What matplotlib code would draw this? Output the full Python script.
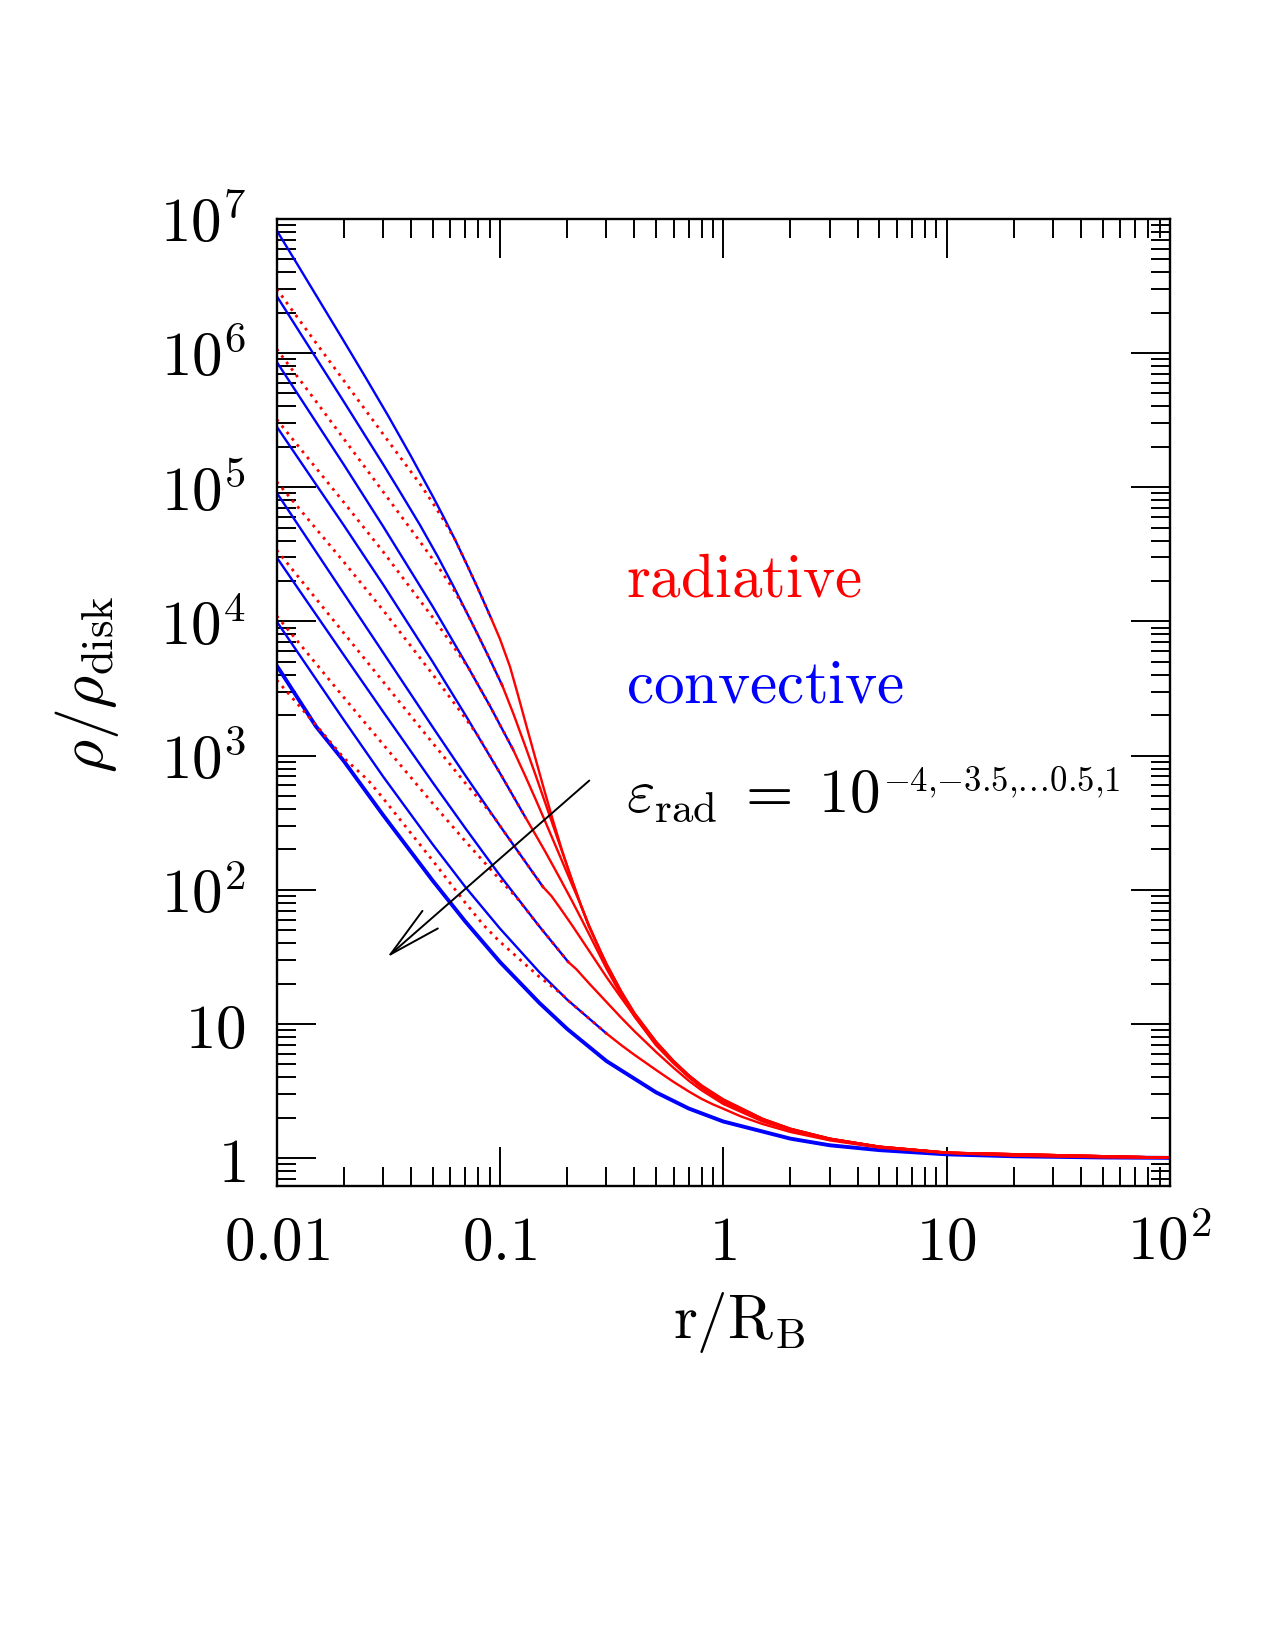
import numpy as np
import matplotlib
matplotlib.use('Agg')
import matplotlib.pyplot as plt
from matplotlib.ticker import LogLocator, NullFormatter

plt.rcParams['mathtext.fontset'] = 'cm'
plt.rcParams['font.family'] = 'serif'

# r/R_B and rho/rho_disk, one list per epsilon_rad curve
# blue = convective part, red = radiative part, dotted red = second solution
conv_r = [
    [0.01, 0.01259, 0.01585, 0.01995, 0.02512, 0.03162, 0.03981, 0.05012,
     0.05623, 0.0631, 0.07079, 0.07943, 0.0912],
    [0.01, 0.02, 0.03, 0.035, 0.0438, 0.0525, 0.0618, 0.07, 0.08, 0.09, 0.1025],
    [0.01, 0.02, 0.03, 0.05, 0.07, 0.09, 0.1148],
    [0.01, 0.02, 0.03, 0.05, 0.07, 0.1, 0.13],
    [0.01, 0.02, 0.03, 0.05, 0.07, 0.1, 0.125, 0.156],
    [0.01, 0.02, 0.03, 0.05, 0.07, 0.1, 0.15, 0.2023],
    [0.01, 0.02, 0.03, 0.05, 0.07, 0.1, 0.15, 0.2, 0.3],
]
conv_rho = [
    [8.2e6, 4.37e6, 2.32e6, 1.233e6, 6.5e5, 3.39e5, 1.72e5, 8.5e4,
     5.9e4, 4.03e4, 2.69e4, 1.78e4, 1.06e4],
    [2.66e6, 4.33e5, 1.48e5, 9.73e4, 5.24e4, 3.07e4, 1.84e4, 1.22e4, 7.83e3, 5.24e3, 3.32e3],
    [8.6e5, 1.47e5, 5.1e4, 1.29e4, 4.95e3, 2.36e3, 1.1e3],
    [2.83e5, 5.19e4, 1.88e4, 4.99e3, 2.01e3, 741, 347],
    [9.1e4, 1.61e4, 5.85e3, 1.63e3, 711, 300, 177, 105],
    [3.0e4, 5.61e3, 2.12e3, 630, 288, 128, 53.5, 29],
    [1.0e4, 1.84e3, 697, 218, 105, 51.5, 24.4, 15.2, 8.5],
]
dot_r = [
    [0.01, 0.015, 0.02, 0.03, 0.0438, 0.05, 0.0562, 0.0631, 0.07079, 0.07943, 0.0912],
    [0.01, 0.015, 0.02, 0.0265, 0.0344, 0.0438, 0.0525, 0.0618, 0.07, 0.08, 0.09, 0.1025],
    [0.01, 0.02, 0.03, 0.05, 0.0724, 0.09, 0.1148],
    [0.01, 0.02, 0.03, 0.05, 0.07, 0.0794, 0.1, 0.13],
    [0.01, 0.02, 0.03, 0.05, 0.07, 0.0933, 0.1, 0.125, 0.156],
    [0.01, 0.02, 0.03, 0.05, 0.07, 0.1, 0.12, 0.15, 0.2023],
    [0.01, 0.015, 0.02, 0.0257, 0.03, 0.05, 0.07, 0.0841, 0.1, 0.15, 0.19, 0.2, 0.3],
]
dot_rho = [
    [3.0e6, 1.19e6, 6.22e5, 2.48e5, 1.06e5, 7.64e4, 5.6e4, 4.03e4, 2.69e4, 1.78e4, 1.06e4],
    [1.07e6, 4.36e5, 2.29e5, 1.22e5, 6.78e4, 3.94e4, 2.6e4, 1.74e4, 1.22e4, 7.83e3, 5.24e3, 3.32e3],
    [3.2e5, 7.7e4, 3.3e4, 1.07e4, 4.5e3, 2.36e3, 1.1e3],
    [1.1e5, 2.77e4, 1.21e4, 4.03e3, 1.9e3, 1.42e3, 741, 347],
    [3.4e4, 8.18e3, 3.55e3, 1.24e3, 624, 355, 300, 177, 105],
    [1.1e4, 2.71e3, 1.21e3, 440, 230, 119, 85.7, 53.5, 29],
    [3.66e3, 1.69e3, 960, 655, 480, 165, 80, 55, 41, 22.5, 16.6, 15.2, 8.5],
]
rad_r = [
    [0.0912, 0.1, 0.1109, 0.12, 0.1317, 0.1436, 0.1563, 0.172, 0.19, 0.21, 0.23,
     0.25, 0.28, 0.3, 0.35, 0.4, 0.5, 0.6, 0.7, 0.8, 1, 1.5, 2, 3, 5, 10, 20, 50, 100],
    [0.1025, 0.115, 0.13, 0.145, 0.16, 0.1855, 0.21, 0.23, 0.25, 0.3, 0.35, 0.4,
     0.5, 0.6, 0.7, 0.8, 1, 1.5, 2, 3, 5, 10, 100],
    [0.1148, 0.13, 0.145, 0.16, 0.1855, 0.21, 0.23, 0.25, 0.3, 0.35, 0.4,
     0.5, 0.6, 0.7, 0.8, 1, 1.5, 2, 3, 5, 10, 100],
    [0.13, 0.145, 0.16, 0.1855, 0.21, 0.23, 0.25, 0.28, 0.3, 0.35, 0.4,
     0.5, 0.6, 0.7, 0.8, 1, 1.5, 2, 3, 5, 10, 100],
    [0.156, 0.17, 0.1855, 0.21, 0.25, 0.3, 0.35, 0.4, 0.5, 0.6, 0.7, 0.8,
     1, 1.5, 2, 3, 5, 10, 100],
    [0.2023, 0.22, 0.25, 0.3, 0.35, 0.4, 0.5, 0.6, 0.7, 0.8, 1, 1.5, 2, 3, 5, 10, 100],
    [0.3, 0.35, 0.4, 0.5, 0.6, 0.7, 0.8, 0.9, 1, 1.2, 1.5, 2, 3, 5, 10, 20, 50, 100],
]
rad_rho = [
    [1.06e4, 7.4e3, 4.6e3, 2.89e3, 1.64e3, 977, 588, 337, 195, 118, 77.8,
     54.8, 35.6, 28.1, 17.4, 12.1, 7.4, 5.3, 4.17, 3.49, 2.75, 1.97, 1.66, 1.40, 1.22, 1.105, 1.05, 1.02, 1.01],
    [3.32e3, 2.04e3, 1.17e3, 702, 438, 215, 119, 77, 54.2, 27.9, 17.3, 12.0,
     7.35, 5.28, 4.15, 3.47, 2.73, 1.965, 1.658, 1.40, 1.22, 1.10, 1.01],
    [1.1e3, 702, 466, 319, 179, 110, 77.4, 53.5, 27.5, 17.1, 11.9,
     7.3, 5.25, 4.12, 3.45, 2.71, 1.96, 1.655, 1.40, 1.22, 1.10, 1.01],
    [347, 254, 191, 122, 83, 62, 47.2, 32.5, 25.9, 16.3, 11.4,
     6.95, 5.1, 4.05, 3.4, 2.66, 1.94, 1.65, 1.395, 1.22, 1.10, 1.01],
    [105, 90, 73.6, 54.7, 35.4, 22.4, 15.6, 11.5, 7.13, 5.13, 4.03, 3.35,
     2.62, 1.92, 1.64, 1.39, 1.215, 1.10, 1.01],
    [29, 25.6, 20.2, 14.6, 11.1, 8.85, 6.2, 4.71, 3.79, 3.21, 2.54, 1.88, 1.62, 1.38, 1.21, 1.10, 1.01],
    [8.5, 6.95, 5.9, 4.55, 3.7, 3.15, 2.77, 2.52, 2.34, 2.05, 1.8, 1.57, 1.36, 1.2, 1.095, 1.045, 1.018, 1.009],
]
# fully convective profile (thick blue)
adia_r = [0.01, 0.015, 0.02, 0.03, 0.05, 0.07, 0.1, 0.15, 0.2, 0.3, 0.5, 0.7,
          1, 2, 3, 5, 10, 20, 50, 100]
adia_rho = [4.7e3, 1.65e3, 910, 360, 117, 58, 29, 14.4, 9.2, 5.3, 3.1, 2.35,
            1.88, 1.40, 1.25, 1.15, 1.07, 1.035, 1.014, 1.007]

xticks = [0.01, 0.1, 1, 10, 100]
xticklabels = [r'$0.01$', r'$0.1$', r'$1$', r'$10$', r'$10^2$']
yticks = [1, 10, 1e2, 1e3, 1e4, 1e5, 1e6, 1e7]
yticklabels = [r'$1$', r'$10$', r'$10^2$', r'$10^3$', r'$10^4$',
               r'$10^5$', r'$10^6$', r'$10^7$']

blue = '#0000ff'
red = '#ff0000'

fig = plt.figure(figsize=(12.75, 16.5), dpi=100)
ax = fig.add_axes([0.2170, 0.2815, 0.7005, 0.5859])

ax.plot(adia_r, adia_rho, color=blue, lw=2.8, solid_capstyle='butt')
for i in range(len(conv_r)):
    ax.plot(conv_r[i], conv_rho[i], color=blue, lw=1.7)
for i in range(len(dot_r)):
    ax.plot(dot_r[i], dot_rho[i], color=red, lw=2.0,
            linestyle=(0, (1, 1.9)), dash_capstyle='butt')
for i in range(len(rad_r)):
    ax.plot(rad_r[i], rad_rho[i], color=red, lw=1.7)

ax.set_xscale('log')
ax.set_yscale('log')
ax.set_xlim(0.01, 100)
ax.set_ylim(10 ** -0.203, 1e7)

ax.set_xticks(xticks)
ax.set_xticklabels(xticklabels)
ax.set_yticks(yticks)
ax.set_yticklabels(yticklabels)
ax.xaxis.set_minor_locator(LogLocator(base=10, subs=np.arange(2, 10), numticks=100))
ax.yaxis.set_minor_locator(LogLocator(base=10, subs=np.arange(2, 10), numticks=100))
ax.xaxis.set_minor_formatter(NullFormatter())
ax.yaxis.set_minor_formatter(NullFormatter())
ax.tick_params(which='both', direction='in', top=True, right=True, width=1.4)
ax.tick_params(which='major', length=28, labelsize=44)
ax.tick_params(which='minor', length=14)
ax.tick_params(axis='x', which='major', pad=20)
ax.tick_params(axis='y', which='major', pad=22)
for sp in ax.spines.values():
    sp.set_linewidth(1.7)

ax.set_xlabel(r'$\mathrm{r/R_B}$', fontsize=44)
ax.xaxis.set_label_coords(0.5177, -0.108)
ax.set_ylabel(r'$\rho/\rho_{\rm disk}$', fontsize=46, va='center')
ax.yaxis.set_label_coords(-0.212, 0.519)

ax.text(0.3686, 10 ** 4.185, r'$\mathrm{radiative}$', color=red, fontsize=44,
        va='baseline', ha='left')
ax.text(0.3686, 10 ** 3.395, r'$\mathrm{convective}$', color=blue, fontsize=44,
        va='baseline', ha='left')
eps = ax.text(0.3686, 10 ** 2.583, r'$\varepsilon_{\rm rad}\;=\;10$',
              color='k', fontsize=44, va='baseline', ha='left')
ax.annotate(r'$-4{,}{-}3.5{,}.\!.\!.\!0.5{,}1$', xy=(1, 1), xycoords=eps,
            xytext=(2, 0), textcoords='offset points', ha='left', va='top',
            fontsize=25, color='k')

ax.annotate('', xy=(0.0312, 31.4), xytext=(0.2512, 652),
            arrowprops=dict(arrowstyle='->, head_length=1.9, head_width=0.42',
                            color='k', lw=1.4, mutation_scale=20,
                            shrinkA=0, shrinkB=0))

fig.savefig('out.png', dpi=100)
